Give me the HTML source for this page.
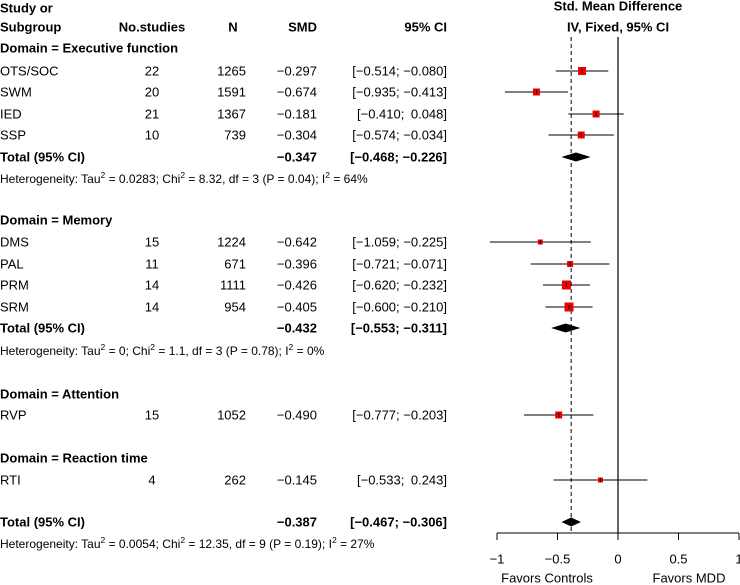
<!DOCTYPE html>
<html><head><meta charset="utf-8">
<style>
html,body{margin:0;padding:0;background:#fff;}
svg{display:block;font-family:"Liberation Sans",Arial,sans-serif;}
</style></head>
<body>
<svg id="fp" width="740" height="585" viewBox="0 0 740 585">
<g id="tbl"></g>
<g id="plot"></g>
</svg>
<script>
const labels=["OTS/SOC","SWM","IED","SSP","Total (95% CI)","DMS","PAL","PRM","SRM","Total (95% CI)","RVP","RTI","Total (95% CI)"];
const rowY=[71,92,114,135,157,242,264,285,307,328,415,480,522];
const isTotal=[0,0,0,0,1,0,0,0,0,1,0,0,1];
const nStudies=["22","20","21","10","","15","11","14","14","","15","4",""];
const nTotal=["1265","1591","1367","739","","1224","671","1111","954","","1052","262",""];
const smd=[-0.297,-0.674,-0.181,-0.304,-0.347,-0.642,-0.396,-0.426,-0.405,-0.432,-0.490,-0.145,-0.387];
const lower=[-0.514,-0.935,-0.410,-0.574,-0.468,-1.059,-0.721,-0.620,-0.600,-0.553,-0.777,-0.533,-0.467];
const upper=[-0.080,-0.413,0.048,-0.034,-0.226,-0.225,-0.071,-0.232,-0.210,-0.311,-0.203,0.243,-0.306];
const boxHalf=[4,3.5,3.5,3.5,0,2.5,3,4.5,4.5,0,3.5,2.5,0];
const ticks=[-1,-0.5,0,0.5,1];
const tickLabels=["\u22121","\u22120.5","0","0.5","1"];
const domains=[["Domain = Executive function",48],["Domain = Memory",220],["Domain = Attention",394],["Domain = Reaction time",458]];
const hets=[["0.0283","8.32","3","0.04","64",179],["0","1.1","3","0.78","0",351],["0.0054","12.35","9","0.19","27",544]];
const overall=-0.387;

const NS="http://www.w3.org/2000/svg";
const tbl=document.getElementById('tbl'),plot=document.getElementById('plot');
const X=v=>618+v*121;
const fmt=v=>(v<0?"\u2212":"")+Math.abs(v).toFixed(3);
const fmtCI=(a,b)=>"["+fmt(a)+";"+(b>=0?"\u2002":" ")+fmt(b)+"]";
function mk(tag,attrs,parent){const e=document.createElementNS(NS,tag);for(const k in attrs)e.setAttribute(k,attrs[k]);parent.appendChild(e);return e;}
function txt(s,x,y,anchor,bold,size,parent){const t=mk('text',{x:x,y:y,'text-anchor':anchor,'font-size':size||13,'font-weight':bold?'bold':'normal',fill:'#000','dominant-baseline':'central'},parent);t.textContent=s;return t;}

let t;
t=txt("Study or",0,8,'start',1,13,tbl);


t=txt("Subgroup",0,27,'start',1,13,tbl);


t=txt("No.studies",152,27,'middle',1,13,tbl);


t=txt("N",233,27,'middle',1,13,tbl);


t=txt("SMD",317,27,'end',1,13,tbl);


t=txt("95% CI",447,27,'end',1,13,tbl);


t=txt("Std. Mean Difference",618,6,'middle',1,13,tbl);


t=txt("IV, Fixed, 95% CI",618,27,'middle',1,13,tbl);



domains.forEach(d=>{const e=txt(d[0],0,d[1],'start',1,13,tbl);

});

hets.forEach(h=>{const e=mk('text',{x:0,y:h[5],'font-size':12,'dominant-baseline':'central',fill:'#000'},tbl);


e.innerHTML='Heterogeneity: Tau<tspan dy="-4" font-size="8.5">2</tspan><tspan dy="4"> = '+h[0]+'; Chi</tspan><tspan dy="-4" font-size="8.5">2</tspan><tspan dy="4"> = '+h[1]+', df = '+h[2]+' (P = '+h[3]+'); I</tspan><tspan dy="-4" font-size="8.5">2</tspan><tspan dy="4"> = '+h[4]+'%</tspan>';});

labels.forEach((l,i)=>{const y=rowY[i],b=isTotal[i];
let e=txt(l,0,y,'start',b,13,tbl);


if(nStudies[i]){e=txt(nStudies[i],152,y,'middle',0,13,tbl);

}
if(nTotal[i]){e=txt(nTotal[i],246,y,'end',0,13,tbl);

}
e=txt(fmt(smd[i]),317,y,'end',b,13,tbl);


e=txt(fmtCI(lower[i],upper[i]),447,y,'end',b,13,tbl);
e.setAttribute('xml:space','preserve');


});

let ln=mk('line',{x1:X(0),x2:X(0),y1:37,y2:533,stroke:'#000','stroke-width':1.2},plot);


ln=mk('line',{x1:X(overall),x2:X(overall),y1:37,y2:533,stroke:'#000','stroke-width':1,'stroke-dasharray':'4,3'},plot);



labels.forEach((l,i)=>{const y=rowY[i];
if(isTotal[i]){const p=mk('polygon',{points:X(lower[i])+','+y+' '+X(smd[i])+','+(y-4.5)+' '+X(upper[i])+','+y+' '+X(smd[i])+','+(y+4.5),fill:'#000'},plot);

}
else{const c=mk('line',{x1:X(lower[i]),x2:X(upper[i]),y1:y,y2:y,stroke:'#000','stroke-width':1},plot);


const h=boxHalf[i];
const r=mk('rect',{x:X(smd[i])-h,y:y-h,width:2*h,height:2*h,fill:'#ee0000'},plot);


const tk=mk('line',{x1:X(smd[i]),x2:X(smd[i]),y1:y-2,y2:y+2,stroke:'#000','stroke-width':1},plot);

}
});

const ax=mk('line',{x1:X(-1),x2:X(1),y1:533,y2:533,stroke:'#000','stroke-width':1},plot);


ticks.forEach((v,i)=>{const tk=mk('line',{x1:X(v),x2:X(v),y1:533,y2:540,stroke:'#000','stroke-width':1},plot);


const tl=txt(tickLabels[i],X(v),559,'middle',0,13,plot);

});
t=txt("Favors Controls",547,578,'middle',0,13,plot);


t=txt("Favors MDD",689,578,'middle',0,13,plot);


</script>
</body></html>
